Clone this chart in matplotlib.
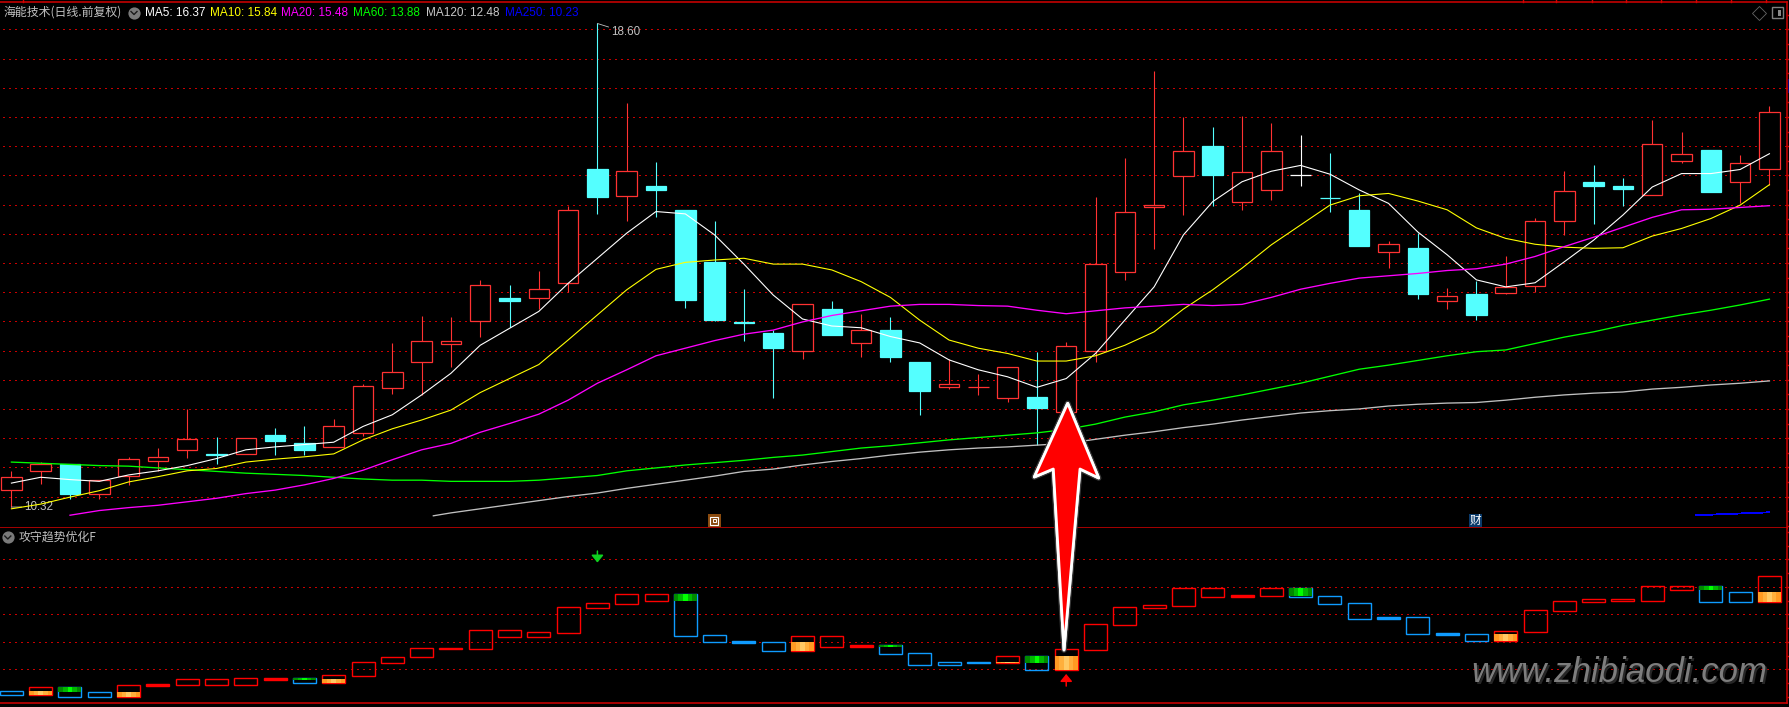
import numpy as np
import matplotlib
matplotlib.use('Agg')
import matplotlib.pyplot as plt
from matplotlib.patches import Rectangle, Polygon
from matplotlib.lines import Line2D
import matplotlib.patheffects as pe

W, H = 1790, 707
CJK = ['Noto Sans CJK SC', 'DejaVu Sans']
plt.rcParams['font.family'] = ['Liberation Sans', 'Noto Sans CJK SC', 'DejaVu Sans']

# daily prices
opens = [10.62, 10.93, 11.05, 10.55, 10.86, 11.10, 11.30, 11.23, 11.22, 11.55,
         11.42, 11.34, 11.59, 12.35, 12.81, 13.12, 13.51, 13.90, 13.90, 14.16,
         16.11, 15.65, 15.82, 15.41, 14.52, 13.49, 13.30, 13.00, 13.71, 13.13,
         13.35, 12.80, 12.38, 12.37, 12.19, 12.20, 11.94, 13.00, 14.35, 15.45,
         15.99, 16.50, 15.55, 15.75, 16.00, 15.62, 15.41, 14.69, 14.76, 13.84,
         13.97, 13.99, 14.11, 15.21, 15.89, 15.82, 15.67, 16.25, 16.43, 15.89, 16.10]
closes = [10.83, 11.05, 10.54, 10.79, 11.15, 11.17, 11.48, 11.21, 11.51, 11.45,
          11.30, 11.70, 12.39, 12.64, 13.16, 13.16, 14.12, 13.85, 14.05, 15.40,
          15.63, 16.07, 15.75, 13.87, 13.52, 13.47, 13.04, 13.79, 13.27, 13.35,
          12.89, 12.31, 12.43, 12.38, 12.71, 12.02, 13.07, 14.48, 15.37, 15.49,
          16.42, 16.00, 16.05, 16.41, 16.00, 15.61, 14.79, 14.82, 13.97, 13.93,
          13.61, 14.09, 15.21, 15.73, 15.82, 15.77, 16.53, 16.36, 15.71, 16.21, 17.08]
highs = [10.94, 11.09, 11.05, 10.79, 11.18, 11.33, 12.00, 11.52, 11.51, 11.67,
         11.71, 11.83, 12.43, 13.13, 13.59, 13.57, 14.21, 14.12, 14.36, 15.47,
         18.60, 17.23, 16.23, 15.41, 15.22, 14.05, 13.35, 13.79, 13.85, 13.63,
         13.57, 12.80, 12.85, 12.60, 12.71, 12.97, 13.15, 15.63, 16.30, 17.79,
         17.00, 16.83, 17.01, 16.90, 16.69, 16.38, 15.69, 14.88, 15.02, 14.07,
         14.19, 14.62, 15.27, 16.07, 16.18, 15.95, 16.95, 16.74, 16.43, 16.35, 17.19]
lows = [10.32, 10.72, 10.46, 10.46, 10.70, 10.94, 11.16, 11.06, 11.22, 11.21,
        11.21, 11.34, 11.54, 12.26, 12.24, 12.72, 13.23, 13.41, 13.71, 14.01,
        15.34, 15.22, 15.29, 13.73, 13.50, 13.16, 12.19, 12.85, 13.27, 12.89,
        12.81, 11.90, 12.34, 12.24, 12.12, 11.38, 11.94, 12.81, 14.20, 14.74,
        15.32, 15.47, 15.41, 15.58, 15.82, 15.37, 14.79, 14.41, 13.88, 13.71,
        13.52, 13.97, 14.00, 14.98, 15.17, 15.47, 15.67, 16.21, 15.71, 15.53, 15.83]

ma5 = [10.73, 10.83, 10.79, 10.76, 10.87, 10.94, 11.03, 11.15, 11.30, 11.35,
       11.39, 11.43, 11.70, 11.90, 12.24, 12.61, 13.09, 13.38, 13.67, 14.15,
       14.58, 15.01, 15.38, 15.34, 14.98, 14.48, 13.95, 13.54, 13.42, 13.39,
       13.24, 13.13, 12.84, 12.67, 12.55, 12.37, 12.52, 12.95, 13.52, 14.09,
       14.98, 15.55, 15.89, 16.07, 16.17, 16.02, 15.75, 15.52, 15.03, 14.64,
       14.21, 14.09, 14.16, 14.52, 14.89, 15.32, 15.80, 16.03, 16.03, 16.10, 16.37]
ma10 = [10.29, 10.37, 10.49, 10.60, 10.75, 10.84, 10.94, 10.98, 11.09, 11.14,
        11.18, 11.23, 11.47, 11.66, 11.81, 11.98, 12.28, 12.52, 12.76, 13.18,
        13.61, 14.04, 14.39, 14.51, 14.55, 14.58, 14.48, 14.48, 14.38, 14.18,
        13.91, 13.52, 13.18, 13.04, 12.95, 12.82, 12.82, 12.91, 13.09, 13.32,
        13.71, 14.04, 14.41, 14.81, 15.15, 15.49, 15.65, 15.69, 15.56, 15.41,
        15.10, 14.92, 14.82, 14.77, 14.75, 14.76, 14.96, 15.09, 15.26, 15.49, 15.84]
ma20 = [10.18, 10.26, 10.31, 10.35, 10.41, 10.47, 10.55, 10.61, 10.70, 10.81,
        10.95, 11.13, 11.30, 11.41, 11.60, 11.75, 11.91, 12.15, 12.44, 12.67,
        12.91, 13.04, 13.17, 13.28, 13.35, 13.49, 13.60, 13.68, 13.76, 13.79,
        13.79, 13.77, 13.76, 13.69, 13.63, 13.68, 13.73, 13.76, 13.79, 13.77,
        13.79, 13.91, 14.05, 14.15, 14.24, 14.28, 14.32, 14.37, 14.40, 14.48,
        14.61, 14.78, 14.94, 15.11, 15.28, 15.41, 15.42, 15.45, 15.48]
ma60 = [11.09, 11.07, 11.05, 11.03, 11.02, 10.99, 10.96, 10.93, 10.90, 10.88,
        10.86, 10.83, 10.80, 10.78, 10.78, 10.76, 10.76, 10.76, 10.78, 10.82,
        10.86, 10.94, 10.99, 11.04, 11.08, 11.12, 11.17, 11.21, 11.27, 11.33,
        11.37, 11.42, 11.47, 11.51, 11.55, 11.59, 11.65, 11.74, 11.86, 11.95,
        12.07, 12.15, 12.24, 12.34, 12.44, 12.56, 12.68, 12.75, 12.83, 12.91,
        12.98, 13.01, 13.12, 13.23, 13.32, 13.43, 13.52, 13.61, 13.69, 13.78, 13.88]
ma120 = [10.17, 10.22, 10.29, 10.36, 10.43, 10.50, 10.56, 10.64, 10.71, 10.78,
         10.85, 10.93, 10.97, 11.04, 11.10, 11.15, 11.21, 11.26, 11.30, 11.33,
         11.35, 11.38, 11.41, 11.48, 11.55, 11.61, 11.68, 11.74, 11.81, 11.87,
         11.93, 11.97, 12.00, 12.05, 12.08, 12.10, 12.11, 12.15, 12.20, 12.24,
         12.27, 12.29, 12.34, 12.37, 12.41, 12.44, 12.48]
ma120_days = [14.4] + list(range(15, 61))
ma250 = [10.18, 10.19, 10.21, 10.23]
ma250_days = [57.5, 58, 59, 60]
ma_labels = ['MA5: 16.37', 'MA10: 15.84', 'MA20: 15.48', 'MA60: 13.88', 'MA120: 12.48', 'MA250: 10.23']
ma_colors = ['#ffffff', '#ffff00', '#ff00ff', '#00ff00', '#c8c8c8', '#0000ff']
ma_label_x = [145, 210, 281.5, 353.5, 426, 505]

# lower indicator, one box per day
box_tops = [0.20, 0.35, 0.36, 0.16, 0.42, 0.47, 0.64, 0.64, 0.67, 0.68,
            0.68, 0.78, 1.25, 1.44, 1.76, 1.77, 2.42, 2.42, 2.35, 3.25,
            3.40, 3.73, 3.73, 3.74, 2.24, 2.03, 1.98, 2.20, 2.20, 1.88,
            1.87, 1.58, 1.25, 1.27, 1.47, 1.48, 1.73, 2.64, 3.25, 3.33,
            3.95, 3.95, 3.70, 3.95, 3.96, 3.65, 3.40, 2.90, 2.89, 2.32,
            2.27, 2.38, 3.15, 3.47, 3.55, 3.56, 4.02, 4.02, 4.03, 3.80, 4.38]
box_bottoms = [0.08, 0.07, 0.00, 0.00, 0.00, 0.40, 0.44, 0.44, 0.44, 0.61,
               0.51, 0.51, 0.77, 1.24, 1.44, 1.74, 1.75, 2.19, 2.19, 2.33,
               3.24, 3.39, 3.49, 2.22, 2.00, 1.97, 1.68, 1.68, 1.82, 1.81,
               1.57, 1.17, 1.17, 1.23, 1.24, 0.99, 0.97, 1.71, 2.62, 3.24,
               3.31, 3.64, 3.63, 3.68, 3.64, 3.39, 2.84, 2.83, 2.29, 2.25,
               2.04, 2.03, 2.37, 3.13, 3.46, 3.48, 3.49, 3.89, 3.46, 3.46, 3.45]
blue_days = [0, 2, 3, 10, 23, 24, 25, 26, 30, 31, 32, 33, 35, 44, 45, 46, 47, 48, 49, 50, 58, 59]
orange_days = [1, 4, 11, 27, 34, 36, 51, 60]
orange_tops = [0.21, 0.17, 0.65, 1.99, 1.27, 1.48, 2.28, 3.81]
green_days = [2, 10, 23, 30, 35, 44, 58]
green_bottoms = [0.17, 0.60, 3.48, 1.81, 1.23, 3.67, 3.88]
orange_stripes = ['#ff9a22', '#ffaf3c', '#ffc964', '#ffaf3c', '#ff9a22']
green_stripes = ['#008a00', '#00b800', '#00ff00', '#00b800', '#008a00']

RED = '#ff3232'
CYAN = '#54ffff'
BORDER = '#d40000'
GRID = '#c80000'
GREY = '#c0c0c0'
LW = 0.6  # stays one pixel with antialiasing off

def fx(x):
    return x / W

def fy(y):
    return 1 - y / H

fig = plt.figure(figsize=(W / 100, H / 100), dpi=100, facecolor='black')
ax1 = fig.add_axes([0, fy(528.3), fx(1787.3), (528.3 - 2) / H], facecolor='black')
ax2 = fig.add_axes([0, fy(703.3), fx(1787.3), 175 / H], facecolor='black')

xlim = (-0.389, 60.61)
for ax, ylim, ticks, levels in [
        (ax1, (9.956, 18.968), np.arange(10, 19, 0.25), np.arange(10.5, 19, 0.5)),
        (ax2, (-0.236, 6.127), np.arange(0, 6.1, 0.5), np.arange(1, 6))]:
    ax.set_xlim(xlim)
    ax.set_ylim(ylim)
    ax.set_xticks([])
    ax.yaxis.tick_right()
    ax.set_yticks(ticks)
    ax.tick_params(axis='y', length=2.2, width=1, color=BORDER, labelright=False)
    for side in ax.spines:
        ax.spines[side].set_color(BORDER)
        ax.spines[side].set_linewidth(1.1)
    ax.spines['left'].set_visible(False)
    ax.hlines(levels, -0.287, xlim[1], color=GRID, lw=LW, linestyles=[(0, (1.7, 5))], zorder=1, antialiased=False)
ax2.spines['top'].set_visible(False)

# candles
for i in range(len(opens)):
    o, c = opens[i], closes[i]
    color = RED if c > o else (CYAN if c < o else '#ffffff')
    ax1.vlines(i, lows[i], highs[i], color=color, lw=0.8, zorder=2)
    face = CYAN if c < o else 'black'
    ax1.add_patch(Rectangle((i - 0.35, min(o, c)), 0.7, abs(c - o), facecolor=face, edgecolor=color,
                            lw=0.9, zorder=3))

days = np.arange(len(opens))
ax1.plot(days, ma5, color='#ffffff', lw=0.8, zorder=5)
ax1.plot(days, ma10, color='#ffff00', lw=0.8, zorder=5)
ax1.plot(days[2:], ma20, color='#ff00ff', lw=0.95, zorder=5)
ax1.plot(days, ma60, color='#00ff00', lw=0.95, zorder=4)
ax1.plot(ma120_days, ma120, color='#c0c0c0', lw=0.95, zorder=4)
ax1.plot(ma250_days, ma250, color='#0000ff', lw=LW, zorder=4, antialiased=False)

# high and low flags
ax1.annotate('18.60', xy=(20, 18.60), xytext=(14, -9), textcoords='offset pixels', color=GREY,
             fontsize=8.4, va='center', arrowprops=dict(arrowstyle='-', color=GREY, lw=0.6, shrinkA=0, shrinkB=0))
ax1.annotate('10.32', xy=(0, 10.32), xytext=(13, 0), textcoords='offset pixels', color=GREY,
             fontsize=8.4, va='center', arrowprops=dict(arrowstyle='-', color=GREY, lw=0.6, shrinkA=0, shrinkB=0))

# lower panel boxes, very flat ones show as a solid bar
box_w = 0.785
for i in range(len(box_tops)):
    color = '#0f9bff' if i in blue_days else '#ff0000'
    height = box_tops[i] - box_bottoms[i]
    ax2.add_patch(Rectangle((i - box_w / 2, box_bottoms[i]), box_w, height,
                            facecolor=color if 0.05 < height <= 0.08 else 'none',
                            edgecolor=color, lw=1.0, zorder=3))

def stripes(ax, day, low, high, colors):
    step = box_w / len(colors)
    for k, col in enumerate(colors):
        ax.bar(day - box_w / 2 + k * step, high - low, width=step, bottom=low, align='edge', color=col,
               lw=0, zorder=4)

for day, top in zip(orange_days, orange_tops):
    stripes(ax2, day, box_bottoms[day], top, orange_stripes)
for day, bottom in zip(green_days, green_bottoms):
    stripes(ax2, day, bottom, box_tops[day], green_stripes)

ax2.annotate('', xy=(20, 4.88), xytext=(20, 5.30),
             arrowprops=dict(arrowstyle='-|>,head_width=0.45,head_length=0.55', color='#10d020', lw=1.1,
                             shrinkA=0, shrinkB=0, mutation_scale=8))
ax2.annotate('', xy=(36, 0.83), xytext=(36, 0.39),
             arrowprops=dict(arrowstyle='-|>,head_width=0.45,head_length=0.55', color='#ff0000', lw=1.1,
                             shrinkA=0, shrinkB=0, mutation_scale=8))

# header texts
fig.text(fx(3), fy(12.5), '海能技术(日线.前复权)', color=GREY, fontsize=8.6, family=CJK, va='center')
for label, col, x in zip(ma_labels, ma_colors, ma_label_x):
    fig.text(fx(x), fy(12.5), label, color=col, fontsize=8.5, va='center')
fig.text(fx(18.5), fy(537), '攻守趋势优化F', color=GREY, fontsize=8.6, family=CJK, va='center')

def icon(x, y):
    fig.add_artist(Line2D([fx(x)], [fy(y)], marker='o', ms=8.8, color='#7a7a7a', mew=0))
    fig.add_artist(Line2D([fx(x - 3), fx(x), fx(x + 3)], [fy(y - 1), fy(y + 2), fy(y - 1)], color='#1a1a1a', lw=1))

icon(134, 12.5)
icon(7.8, 537)

def box(x0, y0, x1, y1, **kw):
    fig.add_artist(Rectangle((fx(x0), fy(y1)), fx(x1 - x0), (y1 - y0) / H, transform=fig.transFigure, **kw))

# top edge ticks and right hand widgets
for x in [23, 1523, 1556, 1592, 1626, 1661, 1696, 1731, 1766]:
    fig.add_artist(Line2D([fx(x), fx(x)], [fy(0), fy(2)], color=BORDER, lw=1))
fig.add_artist(Line2D([fx(1759.3)], [fy(12.7)], marker='D', ms=7.5, mfc='none', mec='#666666', mew=0.6))
box(1772.5, 7.5, 1783, 17.5, facecolor='none', edgecolor='#808080', lw=1)
box(1778.5, 9.5, 1781.5, 15.5, facecolor='#8a8a8a', edgecolor='none')
box(1788, 79, 1790, 93, facecolor='#000080', edgecolor='none')

# event icons
box(708, 514.3, 720.5, 527, facecolor='#8a4b0f', edgecolor='none', zorder=6)
box(710.5, 516.5, 718, 524.5, facecolor='none', edgecolor='#ffffff', lw=0.8, zorder=7)
box(712.7, 518.7, 715.8, 522.3, facecolor='none', edgecolor='#ffffff', lw=0.7, zorder=7)
box(1469, 514.3, 1481.7, 526.7, facecolor='#0a3a6a', edgecolor='none', zorder=6)
fig.text(fx(1475.3), fy(520.5), '财', color='#ffffff', fontsize=8.4, family=CJK, ha='center', va='center', zorder=7)

# big red arrow laid over the chart
arrow_px = [(1067.7, 403.3), (1098.7, 478), (1080, 469), (1064, 650), (1053.3, 469), (1034.3, 477)]
arrow = Polygon([(fx(x), fy(y)) for x, y in arrow_px], closed=True, transform=fig.transFigure,
                facecolor='#ff0000', edgecolor='#ffffff', lw=2, joinstyle='round', zorder=9)
arrow.set_path_effects([pe.withStroke(linewidth=4, foreground='#3a3a3a'), pe.Normal()])
fig.add_artist(arrow)

# watermark
fig.text(fx(1473), fy(684), 'www.zhibiaodi.com', color='#262626', fontsize=25, style='italic', va='baseline', zorder=8)
fig.text(fx(1471.5), fy(681.7), 'www.zhibiaodi.com', color='#7d7d7d', fontsize=25, style='italic', va='baseline', zorder=8)

fig.savefig('out.png', dpi=100, facecolor='black')
